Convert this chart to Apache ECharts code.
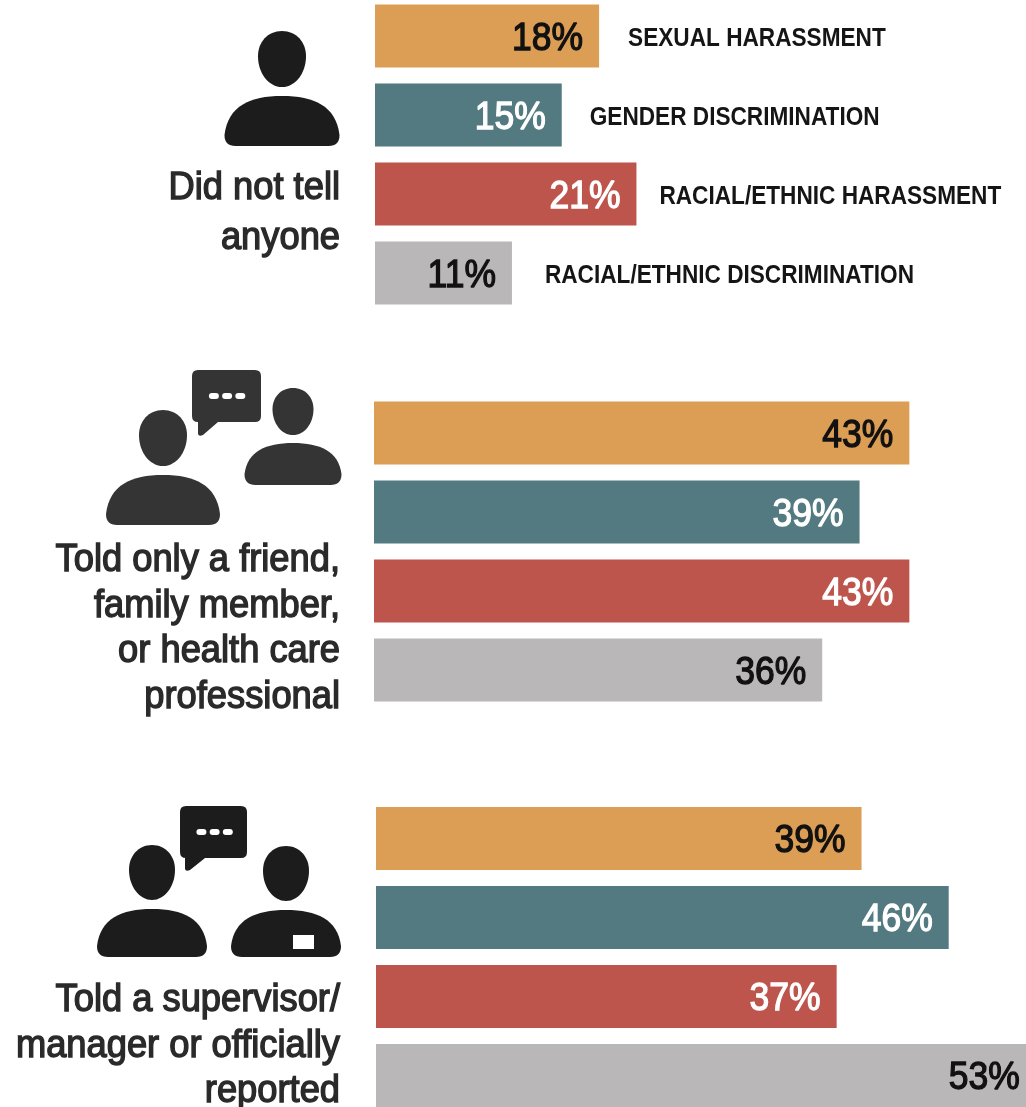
<!DOCTYPE html>
<html>
<head>
<meta charset="utf-8">
<style>html,body{margin:0;padding:0;background:#fff;overflow:hidden}#chart{width:1026px;height:1107px}</style>
<script src="https://cdn.jsdelivr.net/npm/echarts@6/dist/echarts.min.js"></script>
</head>
<body>
<div id="chart"></div>
<script>
// Share of respondents by response and type of incident
const incidentTypes = ['SEXUAL HARASSMENT', 'GENDER DISCRIMINATION', 'RACIAL/ETHNIC HARASSMENT', 'RACIAL/ETHNIC DISCRIMINATION'];
const didNotTell = [18, 15, 21, 11];
const toldFriendFamily = [43, 39, 43, 36];
const toldSupervisor = [39, 46, 37, 53];
const barColors = ['#dc9d55', '#527a80', '#bd554c', '#b9b7b8'];
const labelColors = ['#111111', '#ffffff', '#ffffff', '#111111'];
const font = '"Liberation Sans", Arial, sans-serif';

const chart = echarts.init(document.getElementById('chart'), null, { renderer: 'canvas' });

// One grid per response group; rows are 79px tall
const panels = [
  { values: didNotTell, top: -3.5, left: 375 },
  { values: toldFriendFamily, top: 393.5, left: 374 },
  { values: toldSupervisor, top: 799, left: 376 }
];

const series = [];
panels.forEach((p, i) => {
  series.push({
    type: 'bar',
    xAxisIndex: i,
    yAxisIndex: i,
    barWidth: 63,
    silent: true,
    data: p.values.map((v, k) => ({ value: v, itemStyle: { color: barColors[k] } }))
  });
  // Value labels are custom text so they can be condensed horizontally
  series.push({
    type: 'custom',
    xAxisIndex: i,
    yAxisIndex: i,
    silent: true,
    clip: false,
    z: 5,
    data: p.values.map((v, k) => [v, k]),
    encode: { x: 0, y: 1 },
    renderItem: (params, api) => {
      const at = api.coord([api.value(0), api.value(1)]);
      const color = labelColors[params.dataIndex];
      return {
        type: 'text',
        x: at[0] - 16,
        y: at[1] + 3,
        scaleX: 0.91,
        style: {
          text: api.value(0) + '%',
          fill: color,
          stroke: color,
          lineWidth: 1.3,
          font: '39px ' + font,
          textAlign: 'right',
          textVerticalAlign: 'middle'
        }
      };
    }
  });
});

// Incident-type captions sit just past the ends of the first group's bars
const captionGaps = [29, 28, 23, 33];
series.push({
  type: 'custom',
  xAxisIndex: 0,
  yAxisIndex: 0,
  silent: true,
  clip: false,
  z: 5,
  data: didNotTell.map((v, k) => [v, k]),
  encode: { x: 0, y: 1 },
  renderItem: (params, api) => {
    const at = api.coord([api.value(0), api.value(1)]);
    return {
      type: 'text',
      x: at[0] + captionGaps[params.dataIndex],
      y: at[1] + 3,
      scaleX: 0.87,
      style: {
        text: incidentTypes[params.dataIndex],
        fill: '#151515',
        font: 'bold 26px ' + font,
        textAlign: 'left',
        textVerticalAlign: 'middle'
      }
    };
  }
});

// The graphic component has no free-form path type, so each outline is registered as a shape
let shapeCount = 0;
function outline(d, color) {
  const name = 'iconShape' + shapeCount++;
  echarts.graphic.registerShape(name, echarts.graphic.extendPath(d, {}));
  return { type: name, style: { fill: color } };
}

function personBody(cx, w, top, bottom) {
  const l = cx - w / 2, r = cx + w / 2, c = 11, h = bottom - top;
  return `M${l + c} ${bottom} Q${l} ${bottom} ${l} ${bottom - c} ` +
    `C${l + w * 0.03} ${top + h * 0.2} ${cx - w * 0.28} ${top} ${cx} ${top} ` +
    `C${cx + w * 0.28} ${top} ${r - w * 0.03} ${top + h * 0.2} ${r} ${bottom - c} ` +
    `Q${r} ${bottom} ${r - c} ${bottom} Z`;
}
function personHead(cx, w, top, bottom) {
  const h = bottom - top, l = cx - w / 2, r = cx + w / 2;
  return `M${cx} ${top} C${cx + w * 0.3} ${top} ${r} ${top + h * 0.2} ${r} ${top + h * 0.45} ` +
    `C${r} ${top + h * 0.75} ${cx + w * 0.28} ${bottom} ${cx} ${bottom} ` +
    `C${cx - w * 0.28} ${bottom} ${l} ${top + h * 0.75} ${l} ${top + h * 0.45} ` +
    `C${l} ${top + h * 0.2} ${cx - w * 0.3} ${top} ${cx} ${top} Z`;
}
function person(cx, headW, headTop, headBottom, bodyW, bodyTop, bodyBottom, color) {
  return [
    outline(personHead(cx, headW, headTop, headBottom), color),
    outline(personBody(cx, bodyW, bodyTop, bodyBottom), color)
  ];
}
function bubble(l, r, t, b, tipX, tipY, color) {
  const c = 6;
  const path = `M${l + c} ${t} L${r - c} ${t} Q${r} ${t} ${r} ${t + c} L${r} ${b - c} Q${r} ${b} ${r - c} ${b} ` +
    `L${tipX + 18} ${b} L${tipX + 3} ${tipY - 1} Q${tipX - 2} ${tipY + 1} ${tipX - 2} ${tipY - 3} L${tipX - 2} ${b} ` +
    `L${l + c} ${b} Q${l} ${b} ${l} ${b - c} L${l} ${t + c} Q${l} ${t} ${l + c} ${t} Z`;
  const dotY = t + (b - t) * 0.5 - 3;
  const dots = [0, 1, 2].map(i => ({
    type: 'rect',
    shape: { x: l + (r - l) * 0.245 + i * 13.2, y: dotY, width: 10, height: 6, r: 3 },
    style: { fill: '#ffffff' }
  }));
  return [outline(path, color), ...dots];
}
function caption(lines, y, lineHeight) {
  return lines.map((t, i) => ({
    type: 'text',
    x: 340,
    y: y + i * lineHeight,
    scaleX: 0.955,
    style: {
      text: t,
      fill: '#2a2a2a',
      stroke: '#2a2a2a',
      lineWidth: 1.4,
      font: '38px ' + font,
      textAlign: 'right',
      textVerticalAlign: 'middle'
    }
  }));
}

const dark = '#1c1c1c', soft = '#343434';
const graphics = [
  ...person(282, 48, 31, 87, 115, 96, 146, dark),
  ...caption(['Did not tell', 'anyone'], 189, 50),

  ...person(163, 48, 410, 466, 114, 475, 525, soft),
  ...person(293, 41, 388, 435, 97, 443, 485, soft),
  ...bubble(192, 261, 370, 422, 200, 436, soft),
  ...caption(['Told only a friend,', 'family member,', 'or health care', 'professional'], 561, 45.4),

  ...person(152, 46, 845, 900, 110, 909, 957, dark),
  ...person(286, 46, 846, 901, 110, 910, 957, dark),
  { type: 'rect', shape: { x: 293, y: 935, width: 21, height: 14 }, style: { fill: '#ffffff' } },
  ...bubble(180, 247, 806, 858, 187, 871, dark),
  ...caption(['Told a supervisor/', 'manager or officially', 'reported'], 1001, 45.5)
];

chart.setOption({
  animation: false,
  backgroundColor: '#ffffff',
  grid: panels.map(p => ({ left: p.left, top: p.top, width: 747, height: 316, outerBoundsMode: 'none' })),
  xAxis: panels.map((p, i) => ({ type: 'value', gridIndex: i, min: 0, max: 60, show: false })),
  yAxis: panels.map((p, i) => ({
    type: 'category', gridIndex: i, inverse: true, show: false, data: incidentTypes
  })),
  series,
  graphic: graphics
});
</script>
</body>
</html>
